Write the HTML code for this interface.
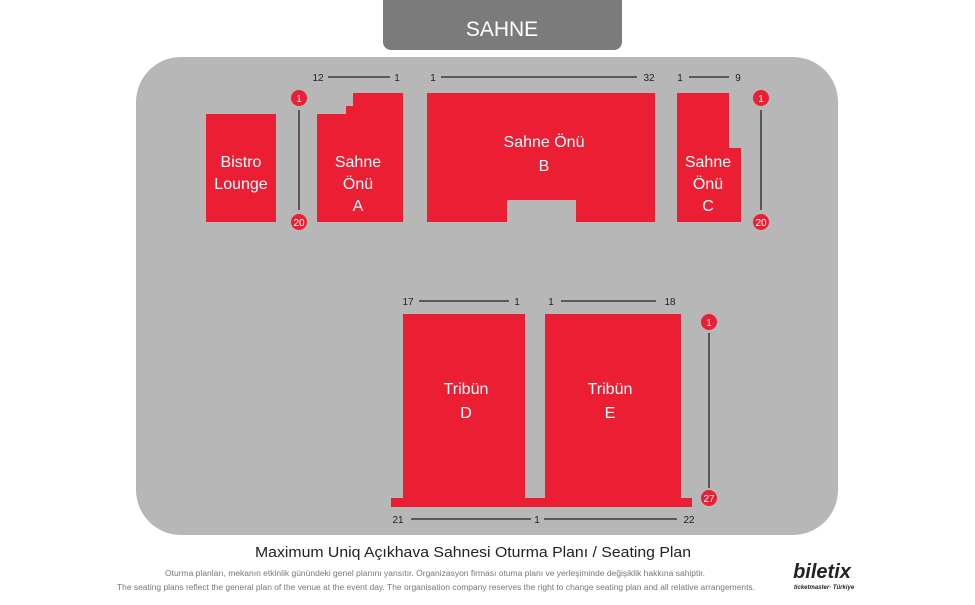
<!DOCTYPE html>
<html><head><meta charset="utf-8"><style>
body{margin:0;background:#fff;width:975px;height:600px;overflow:hidden;font-family:"Liberation Sans",sans-serif}
</style></head><body>
<svg width="975" height="600" viewBox="0 0 975 600" xmlns="http://www.w3.org/2000/svg" font-family="Liberation Sans, sans-serif">
<rect x="136" y="57" width="702" height="478" rx="45" fill="#b7b7b7"/>
<path d="M383 0H622V42a8 8 0 0 1-8 8H391a8 8 0 0 1-8-8Z" fill="#7b7b7b"/>
<text x="502" y="36" fill="#fff" font-size="21" text-anchor="middle">SAHNE</text>
<g fill="#ec1e33">
<rect x="206" y="114" width="70" height="108"/>
<path d="M353 93H403V222H317V114H346V106H353Z"/>
<path d="M427 93H655V222H576V200H507V222H427Z"/>
<path d="M677 93H729V148H741V222H677Z"/>
<rect x="403" y="314" width="122" height="186"/>
<rect x="545" y="314" width="136" height="186"/>
<rect x="391" y="498" width="301" height="9"/>
</g>
<g fill="#fff" font-size="16" text-anchor="middle">
<text x="241" y="167">Bistro</text><text x="241" y="189">Lounge</text>
<text x="358" y="167">Sahne</text><text x="358" y="189">Önü</text><text x="358" y="211">A</text>
<text x="544" y="147">Sahne Önü</text><text x="544" y="171">B</text>
<text x="708" y="167">Sahne</text><text x="708" y="189">Önü</text><text x="708" y="211">C</text>
<text x="466" y="394">Tribün</text><text x="466" y="418">D</text>
<text x="610" y="394">Tribün</text><text x="610" y="418">E</text>
</g>
<g stroke="#222" stroke-width="1.3">
<line x1="328" y1="77" x2="390" y2="77"/>
<line x1="441" y1="77" x2="637" y2="77"/>
<line x1="689" y1="77" x2="729" y2="77"/>
<line x1="419" y1="301" x2="509" y2="301"/>
<line x1="561" y1="301" x2="656" y2="301"/>
<line x1="411" y1="519" x2="531" y2="519"/>
<line x1="544" y1="519" x2="677" y2="519"/>
<line x1="299" y1="110" x2="299" y2="210"/>
<line x1="761" y1="110" x2="761" y2="210"/>
<line x1="709" y1="333" x2="709" y2="488"/>
</g>
<g fill="#222" font-size="10" text-anchor="middle">
<text x="318" y="81">12</text><text x="397" y="81">1</text>
<text x="433" y="81">1</text><text x="649" y="81">32</text>
<text x="680" y="81">1</text><text x="738" y="81">9</text>
<text x="408" y="305">17</text><text x="517" y="305">1</text>
<text x="551" y="305">1</text><text x="670" y="305">18</text>
<text x="398" y="523">21</text><text x="537" y="523">1</text>
<text x="689" y="523">22</text>
</g>
<g fill="#ec1e33">
<circle cx="299" cy="98" r="8"/><circle cx="299" cy="222" r="8"/>
<circle cx="761" cy="98" r="8"/><circle cx="761" cy="222" r="8"/>
<circle cx="709" cy="322" r="8"/><circle cx="709" cy="498" r="8"/>
</g>
<g fill="#fff" font-size="10" text-anchor="middle">
<text x="299" y="102">1</text><text x="299" y="226">20</text>
<text x="761" y="102">1</text><text x="761" y="226">20</text>
<text x="709" y="326">1</text><text x="709" y="502">27</text>
</g>
<text x="255" y="557" fill="#222" font-size="15" textLength="436" lengthAdjust="spacingAndGlyphs">Maximum Uniq Açıkhava Sahnesi Oturma Planı / Seating Plan</text>
<text x="165" y="576" fill="#777" font-size="8" textLength="540" lengthAdjust="spacingAndGlyphs">Oturma planları, mekanın etkinlik günündeki genel planını yansıtır. Organizasyon firması otuma planı ve yerleşiminde değişiklik hakkına sahiptir.</text>
<text x="117" y="590" fill="#777" font-size="8" textLength="638" lengthAdjust="spacingAndGlyphs">The seating plans reflect the general plan of the venue at the event day. The organisation company reserves the right to change seating plan and all relative arrangements.</text>
<text x="822" y="578" fill="#222" font-size="20" font-weight="bold" font-style="italic" text-anchor="middle">biletix</text>
<text x="824" y="589" fill="#222" font-size="6" font-weight="bold" font-style="italic" text-anchor="middle">ticketmaster· Türkiye</text>
</svg>
</body></html>
